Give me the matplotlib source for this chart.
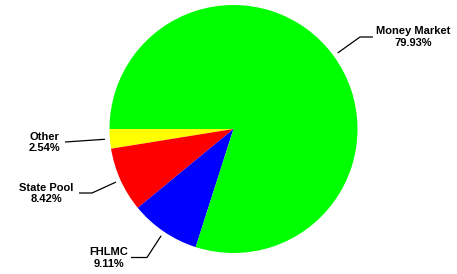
import numpy as np
import matplotlib
matplotlib.use("Agg")
import matplotlib.pyplot as plt

labels = ["Other", "State Pool", "FHLMC", "Money Market"]
values = [2.54, 8.42, 9.11, 79.93]
colors = ["#ffff00", "#ff0000", "#0000ff", "#00ff00"]

W, H = 457, 274
fig = plt.figure(figsize=(W / 100, H / 100), dpi=100)
ax = fig.add_axes([0, 0, 1, 1])
ax.set_xlim(0, W)
ax.set_ylim(0, H)
ax.set_aspect("equal")
ax.axis("off")

cx, cy, R = 233.5, H - 129, 124
wedges, _ = ax.pie(values, colors=colors, startangle=180, counterclock=True,
                   center=(cx, cy), radius=R, frame=True,
                   wedgeprops=dict(linewidth=0))
ax.set_xlim(0, W)
ax.set_ylim(0, H)
ax.axis("off")

# label layout (pixel coords, y from top): elbow, line end, text center
layout = {
    "Money Market": ((360, 37), (373, 37), (413.5, 37)),
    "Other": (None, (65, 142), (44, 142.5)),
    "State Pool": ((92, 193), (79, 193), (46.5, 193.5)),
    "FHLMC": ((147, 257.5), (131, 257.5), (108.5, 258)),
}

for w, lab, v in zip(wedges, labels, values):
    ang = np.deg2rad((w.theta1 + w.theta2) / 2)
    sx, sy = cx + 1.04 * R * np.cos(ang), cy + 1.04 * R * np.sin(ang)
    elbow, end, tc = layout[lab]
    xs, ys = [sx], [sy]
    if elbow is not None:
        xs.append(elbow[0]); ys.append(H - elbow[1])
    xs.append(end[0]); ys.append(H - end[1])
    ax.plot(xs, ys, color="black", lw=0.9, solid_capstyle="butt")
    ax.text(tc[0], H - tc[1], f"{lab}\n{v:.2f}%", ha="center", va="center",
            fontsize=8, fontweight="bold", family="Liberation Sans",
            linespacing=1.2, color="black")

fig.savefig("out.png", dpi=100)
